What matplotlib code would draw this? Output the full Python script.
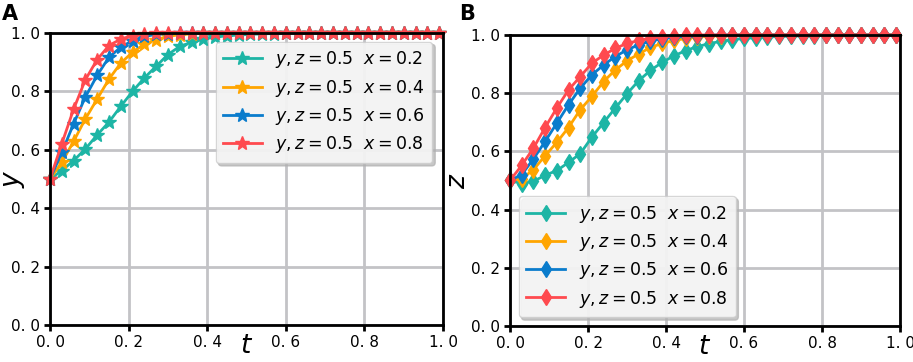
import numpy as np
import matplotlib
matplotlib.use("Agg")
import matplotlib.pyplot as plt

t = np.round(np.arange(0, 1.0, 0.03), 2)  # 34 time points
n = len(t)

def pad(vals):
    vals = list(vals)
    return vals + [vals[-1]] * (n - len(vals))

# Panel A: y(t)
yA_02 = pad([0.5, 0.529, 0.563, 0.603, 0.651, 0.695, 0.749, 0.8, 0.846, 0.886, 0.926, 0.954,
             0.968, 0.979, 0.986, 0.99, 0.993, 0.995, 0.997, 0.998, 0.999, 1.0])
yA_04 = pad([0.5, 0.557, 0.629, 0.706, 0.774, 0.842, 0.897, 0.934, 0.962, 0.977, 0.988, 0.994,
             0.997, 0.999, 1.0])
yA_06 = pad([0.5, 0.591, 0.689, 0.781, 0.855, 0.917, 0.951, 0.974, 0.988, 0.995, 0.998, 1.0])
yA_08 = pad([0.5, 0.621, 0.739, 0.84, 0.909, 0.957, 0.979, 0.991, 0.997, 0.999, 1.0])

# Panel B: z(t)
zB_02 = pad([0.5, 0.489, 0.497, 0.518, 0.534, 0.562, 0.592, 0.649, 0.699, 0.749, 0.798, 0.843,
             0.878, 0.906, 0.928, 0.946, 0.96, 0.97, 0.978, 0.984, 0.988, 0.991, 0.993, 0.995,
             0.996, 0.997, 0.998, 0.999, 1.0])
zB_04 = pad([0.5, 0.506, 0.537, 0.585, 0.631, 0.682, 0.743, 0.789, 0.84, 0.88, 0.911, 0.935,
             0.957, 0.971, 0.981, 0.988, 0.993, 0.996, 0.998, 0.999, 1.0])
zB_06 = pad([0.5, 0.52, 0.574, 0.634, 0.697, 0.76, 0.817, 0.863, 0.897, 0.926, 0.949, 0.966,
             0.979, 0.987, 0.992, 0.995, 0.997, 0.999, 1.0])
zB_08 = pad([0.5, 0.552, 0.611, 0.682, 0.749, 0.811, 0.857, 0.903, 0.931, 0.954, 0.971, 0.981,
             0.989, 0.994, 0.997, 0.999, 1.0])

labels = [r"$y,z=0.5\ \ x=0.2$", r"$y,z=0.5\ \ x=0.4$",
          r"$y,z=0.5\ \ x=0.6$", r"$y,z=0.5\ \ x=0.8$"]
colors = ["#1db5a5", "#ffa500", "#0a7ccc", "#ff4a4f"]
ticks = [0.0, 0.2, 0.4, 0.6, 0.8, 1.0]
tick_labels = ["0. 0", "0. 2", "0. 4", "0. 6", "0. 8", "1. 0"]

plt.rcParams["mathtext.fontset"] = "dejavusans"
fig = plt.figure(figsize=(9.13, 3.62), dpi=100)
axA = fig.add_axes([0.0548, 0.102, 0.4305, 0.807])
axB = fig.add_axes([0.5586, 0.0994, 0.4272, 0.804])

def style(ax, ylabel, ylab_x):
    ax.set_xlim(0, 1)
    ax.set_ylim(0, 1)
    ax.set_xticks(ticks)
    ax.set_yticks(ticks)
    ax.set_xticklabels(tick_labels)
    ax.set_yticklabels(tick_labels)
    ax.grid(True, color="#c3c3c6", linewidth=2)
    ax.set_axisbelow(True)
    for s in ax.spines.values():
        s.set_linewidth(2)
        s.set_color("black")
    ax.tick_params(direction="out", length=4, width=2, labelsize=11, pad=3)
    ax.set_xlabel(r"$t$", fontsize=19, labelpad=-12)
    ax.set_ylabel(ylabel, fontsize=19)
    ax.yaxis.set_label_coords(ylab_x, 0.5)

leg_kw = dict(fontsize=12.5, framealpha=0.8, handlelength=2.2, borderpad=0.45,
              labelspacing=0.42, shadow={"color": "#b0b0b0", "alpha": 0.7, "ox": 2, "oy": -2})

seriesA = [yA_02, yA_04, yA_06, yA_08]
for vals, c, lab in zip(seriesA, colors, labels):
    axA.plot(t, vals, color=c, lw=2, marker="*", ms=10, label=lab, clip_on=False)
style(axA, r"$y$", -0.058)
axA.legend(loc="upper right", bbox_to_anchor=(0.995, 1.0), **leg_kw)

seriesB = [zB_02, zB_04, zB_06, zB_08]
for vals, c, lab in zip(seriesB, colors, labels):
    axB.plot(t, vals, color=c, lw=2, marker="d", ms=8, label=lab, clip_on=False)
style(axB, r"$z$", -0.1)
axB.legend(loc="lower left", bbox_to_anchor=(0.0, 0.0), **leg_kw)

fig.text(0.002, 0.962, "A", fontsize=15, fontweight="bold", va="center")
fig.text(0.503, 0.962, "B", fontsize=15, fontweight="bold", va="center")

fig.savefig("out.png", dpi=100)
